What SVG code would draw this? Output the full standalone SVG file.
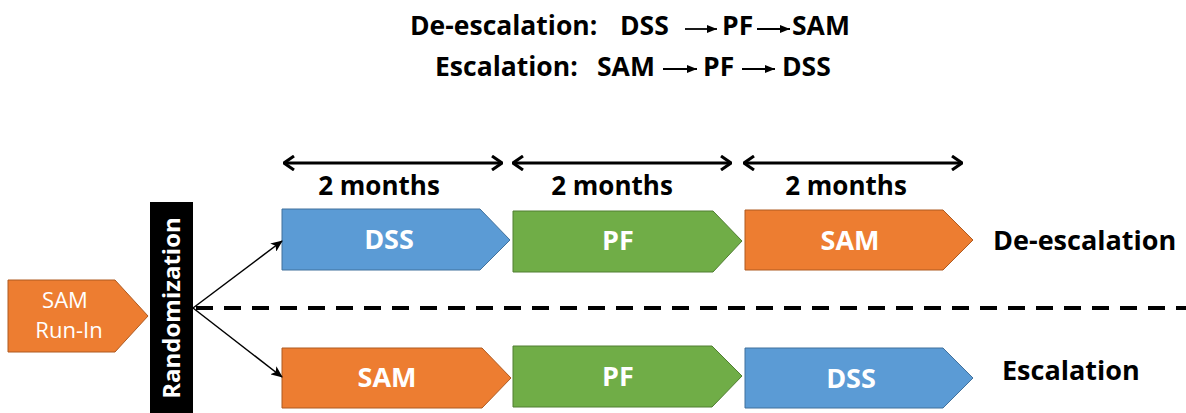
<svg xmlns="http://www.w3.org/2000/svg" width="1186" height="413" viewBox="0 0 1186 413">
<style>
  .t { font-family: "Open Sans", "Liberation Sans", sans-serif; font-weight: bold; fill: #000; }
  .title { font-size: 26.5px; }
  .dur { font-size: 26px; text-anchor: middle; }
  .side { font-size: 27px; }
  .lbl { font-family: "Open Sans", "Liberation Sans", sans-serif; font-weight: bold; font-size: 27px; fill: #fff; text-anchor: middle; }
  .blue { fill: #5B9BD5; stroke: #41719C; stroke-width: 1; }
  .green { fill: #70AD47; stroke: #507E32; stroke-width: 1; }
  .orange { fill: #ED7D31; stroke: #AE5A21; stroke-width: 1; }
  .dbl { stroke: #000; stroke-width: 3; fill: none; marker-start: url(#open); marker-end: url(#open); }
  .thin { stroke: #000; stroke-width: 1.5; fill: none; marker-end: url(#solid); }
  .tarrow { stroke: #000; stroke-width: 1.8; fill: none; marker-end: url(#small); }
</style>
<defs>
  <marker id="open" viewBox="0 0 12 16" refX="11" refY="8" markerWidth="12" markerHeight="16" markerUnits="userSpaceOnUse" orient="auto-start-reverse">
    <path d="M1,1 L11,8 L1,15" fill="none" stroke="#000" stroke-width="3" stroke-linejoin="miter"/>
  </marker>
  <marker id="solid" viewBox="0 0 12 10" refX="11" refY="5" markerWidth="12" markerHeight="10" markerUnits="userSpaceOnUse" orient="auto">
    <path d="M0,0 L12,5 L0,10 L3,5 Z" fill="#000"/>
  </marker>
  <marker id="small" viewBox="0 0 10 8" refX="10" refY="4" markerWidth="10" markerHeight="8" markerUnits="userSpaceOnUse" orient="auto">
    <path d="M0,0 L10,4 L0,8 Z" fill="#000"/>
  </marker>
</defs>

<g id="title">
  <text class="t title" x="410" y="35">De-escalation:</text>
  <text class="t title" x="620" y="35">DSS</text>
  <text class="t title" x="722" y="35">PF</text>
  <text class="t title" x="792" y="35">SAM</text>
  <text class="t title" x="435" y="76">Escalation:</text>
  <text class="t title" x="597" y="76">SAM</text>
  <text class="t title" x="703" y="76">PF</text>
  <text class="t title" x="782" y="76">DSS</text>
</g>

<g id="run-in">
  <polygon class="orange" points="8,280 115,280 148,316 115,352 8,352"/>
  <text x="65" y="308" font-family="Open Sans, Liberation Sans, sans-serif" font-size="22" fill="#fff" text-anchor="middle">SAM</text>
  <text x="69" y="338" font-family="Open Sans, Liberation Sans, sans-serif" font-size="22" fill="#fff" text-anchor="middle">Run-In</text>
</g>

<g id="randomization">
  <rect x="150" y="202" width="43" height="211" fill="#000"/>
  <text transform="translate(180,308) rotate(-90)" x="0" y="0" font-family="Open Sans, Liberation Sans, sans-serif" font-weight="bold" font-size="24" fill="#fff" text-anchor="middle">Randomization</text>
</g>

<g id="durations">
  <text class="t dur" x="379" y="195">2 months</text>
  <text class="t dur" x="612" y="195">2 months</text>
  <text class="t dur" x="846" y="195">2 months</text>
</g>

<g id="de-dss">
  <polygon class="blue" points="282,209 480,209 510,240 480,270 282,270"/>
  <text class="lbl" x="389" y="249">DSS</text>
</g>
<g id="de-pf">
  <polygon class="green" points="513,211 713,211 742,241 713,272 513,272"/>
  <text class="lbl" x="618" y="250">PF</text>
</g>
<g id="de-sam">
  <polygon class="orange" points="745,210 943,210 973,240 943,270 745,270"/>
  <text class="lbl" x="850" y="250">SAM</text>
</g>
<g id="es-sam">
  <polygon class="orange" points="282,348 482,348 511,378 482,408 282,408"/>
  <text class="lbl" x="387" y="387">SAM</text>
</g>
<g id="es-pf">
  <polygon class="green" points="513,346 712,346 742,376 712,407 513,407"/>
  <text class="lbl" x="618" y="386">PF</text>
</g>
<g id="es-dss">
  <polygon class="blue" points="745,348 943,348 973,378 943,408 745,408"/>
  <text class="lbl" x="851" y="388">DSS</text>
</g>

<g id="labels">
  <text class="t side" x="993" y="250">De-escalation</text>
  <text class="t side" x="1002" y="380">Escalation</text>
</g>

<g id="connectors">
  <line class="tarrow" x1="685" y1="29" x2="717" y2="29"/>
  <line class="tarrow" x1="757" y1="29" x2="790" y2="29"/>
  <line class="tarrow" x1="663" y1="69" x2="697" y2="69"/>
  <line class="tarrow" x1="742" y1="69" x2="775" y2="69"/>
  <line class="dbl" x1="284" y1="163" x2="502" y2="163"/>
  <line class="dbl" x1="513" y1="163" x2="731" y2="163"/>
  <line class="dbl" x1="744" y1="163" x2="962" y2="163"/>
  <line class="thin" x1="193" y1="308" x2="282" y2="241"/>
  <line class="thin" x1="193" y1="308" x2="282" y2="377"/>
  <line x1="196" y1="308" x2="1186" y2="308" stroke="#000" stroke-width="4" stroke-dasharray="17 11"/>
</g>
</svg>
